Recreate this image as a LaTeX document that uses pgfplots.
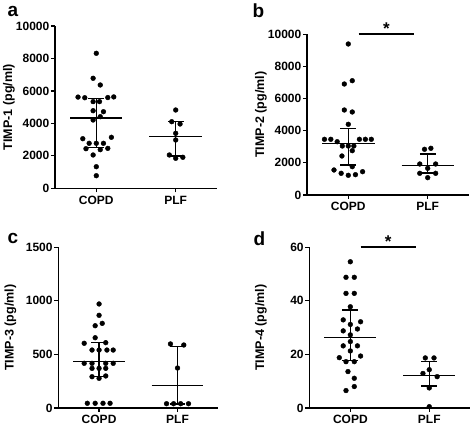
\documentclass[border=0pt]{standalone}
\usepackage{fontspec}
\setmainfont{Liberation Sans}
\usepackage{pgfplots}
\pgfplotsset{compat=1.18}
\pgfplotsset{panel/.style={
  scale only axis, width=162pt, height=161pt,
  xmin=-0.52, xmax=1.52, ymin=0,
  axis lines=left, axis line style={-, line width=1.2pt},
  tick align=outside, major tick length=4pt,
  tick style={line width=1.2pt, black},
  xtick={0,1}, xticklabels={COPD,PLF},
  /pgf/number format/assume math mode=true,
  /pgf/number format/1000 sep={},
  scaled y ticks=false,
  ticklabel style={font=\bfseries\fontsize{12}{14}\selectfont},
  yticklabel style={inner sep=1.5pt},
  ylabel style={font=\bfseries\fontsize{12.5}{14}\selectfont, anchor=center},
  clip=false,
},
dots/.style={only marks, mark=*, mark size=2.4pt, black},
med/.style={black, line width=1.5pt, unbounded coords=jump, mark=none},
sig/.style={black, line width=2pt, mark=none}}
\begin{document}
\begin{tikzpicture}[x=1pt,y=1pt]
\path[use as bounding box] (0,0) rectangle (472,428);
\node[anchor=base west, font=\bfseries\fontsize{19}{22}\selectfont] at (4,411) {a};
\node[anchor=base west, font=\bfseries\fontsize{19}{22}\selectfont] at (249,410) {b};
\node[anchor=base west, font=\bfseries\fontsize{19}{22}\selectfont] at (4,184.7) {c};
\node[anchor=base west, font=\bfseries\fontsize{19}{22}\selectfont] at (250,182.3) {d};
% panel a
\begin{axis}[panel, at={(55pt,239.7pt)}, anchor=south west, height=162.3pt,
  ymax=10000, ytick={0,2000,4000,6000,8000,10000}, ylabel={TIMP-1 (pg/ml)},
  ylabel style={at={(axis description cs:-0.284,0.5)}}]
\addplot[dots] coordinates {
(0,8318)(-0.04,6778)(0.05,6365)
(-0.23,5620)(-0.145,5580)(0.145,5590)(0.22,5630)
(-0.04,5340)(0.04,5340)
(-0.04,4781)(0.09,4720)(-0.04,4208)(0.05,4412)
(-0.17,3056)(0.19,3142)
(-0.09,2772)(0,2772)(0.09,2772)
(-0.13,2440)(0.05,2380)(0.145,2460)
(-0.04,2052)(0,1331)(0,776)
(1,4824)(0.95,4104)(1.055,3962)(1,3389)(1,2976)(0.92,2052)(1,1848)(1.09,1910)};
\addplot[med] coordinates {(-0.33,4333)(0.33,4333)(nan,nan)(0,2526)(0,5524)(nan,nan)(-0.1,2526)(0.1,2526)(nan,nan)(-0.1,5524)(0.1,5524)};
\addplot[med] coordinates {(0.67,3180)(1.33,3180)(nan,nan)(1,1990)(1,4104)(nan,nan)(0.9,1990)(1.1,1990)(nan,nan)(0.9,4104)(1.1,4104)};
\end{axis}
% panel b
\begin{axis}[panel, at={(307pt,233pt)}, anchor=south west, height=160.7pt,
  ymax=10000, ytick={0,2000,4000,6000,8000,10000}, ylabel={TIMP-2 (pg/ml)},
  ylabel style={at={(axis description cs:-0.284,0.5)}}]
\addplot[dots] coordinates {
(0,9397)(-0.05,6907)(0.05,7113)(-0.05,5290)(0.05,5165)(0,4399)
(-0.3,3466)(-0.22,3466)(-0.14,3317)(0.14,3466)(0.215,3466)(0.29,3466)
(-0.075,3049)(0,3049)(0.07,3049)
(0.05,2757)(-0.08,2427)(0.05,1761)
(-0.18,1556)(-0.09,1350)(0,1226)(0.09,1265)(0.18,1450)
(0.96,2844)(1.04,2906)(0.9,1929)(1.1,1929)(1,1661)(0.9,1350)(1.1,1350)(1,1079)};
\addplot[med] coordinates {(-0.33,3200)(0.33,3200)(nan,nan)(0,1870)(0,4149)(nan,nan)(-0.1,1870)(0.1,1870)(nan,nan)(-0.1,4149)(0.1,4149)};
\addplot[med] coordinates {(0.67,1826)(1.33,1826)(nan,nan)(1,1380)(1,2551)(nan,nan)(0.9,1380)(1.1,1380)(nan,nan)(0.9,2551)(1.1,2551)};
\addplot[sig] coordinates {(0.13,10000)(0.83,10000)};
\node[anchor=south, font=\bfseries\fontsize{17}{19}\selectfont, inner sep=0pt] at (axis cs:0.48,10000) {*};
\end{axis}
% panel c
\begin{axis}[panel, at={(58.3pt,20pt)}, anchor=south west, width=160pt, height=160.7pt,
  ymax=1500, ytick={0,500,1000,1500}, ylabel={TIMP-3 (pg/ml)},
  ylabel style={at={(axis description cs:-0.30,0.5)}}]
\addplot[dots] coordinates {
(0,971)(0,865)(-0.05,768)(0.04,790)(-0.05,656)(-0.19,604)(0.085,610)
(-0.09,541)(0,541)(0.1,541)(0.18,541)
(-0.19,417)(-0.09,417)(0.085,417)(0.18,417)
(-0.09,370)(0,370)(0.085,370)
(-0.09,292)(0,277)(0.085,299)
(-0.15,44)(-0.05,44)(0.05,44)(0.14,44)
(0.91,598)(1.08,588)(1,373)(0.86,40)(0.95,40)(1.04,40)(1.14,40)};
\addplot[med] coordinates {(-0.33,436)(0.33,436)(nan,nan)(0,292)(0,610)(nan,nan)(-0.1,292)(0.1,292)(nan,nan)(-0.1,610)(0.1,610)};
\addplot[med] coordinates {(0.67,208)(1.33,208)(nan,nan)(1,37)(1,573)(nan,nan)(0.9,37)(1.1,37)(nan,nan)(0.9,573)(1.1,573)};
\end{axis}
% panel d
\begin{axis}[panel, at={(309.3pt,20pt)}, anchor=south west, width=161pt, height=160.7pt,
  ymax=60, ytick={0,20,40,60}, ylabel={TIMP-4 (pg/ml)},
  ylabel style={at={(axis description cs:-0.30,0.5)}}]
\addplot[dots] coordinates {
(0,54.6)(-0.055,48.8)(0.05,48.8)(-0.055,42.8)(0.05,42.8)(0,37.8)
(-0.09,32.9)(0.13,32.2)(0,31.2)(-0.09,28.8)(0.09,29.5)(0,27.3)(0,24.8)
(-0.09,23.2)(0.09,23.2)(0,21.3)(-0.14,18.8)(0.13,19.4)(-0.055,17.3)(0.05,17.3)
(-0.03,13.6)(0.05,11.1)(0.05,8.0)(-0.055,6.5)
(0.95,18.7)(1.06,18.7)(1,14.3)(0.92,12.9)(1.1,11.7)(1,7.5)(1,0.5)};
\addplot[med] coordinates {(-0.33,26.3)(0.33,26.3)(nan,nan)(0,17.7)(0,36.6)(nan,nan)(-0.1,17.7)(0.1,17.7)(nan,nan)(-0.1,36.6)(0.1,36.6)};
\addplot[med] coordinates {(0.67,12.1)(1.33,12.1)(nan,nan)(1,8.3)(1,17.4)(nan,nan)(0.9,8.3)(1.1,8.3)(nan,nan)(0.9,17.4)(1.1,17.4)};
\addplot[sig] coordinates {(0.13,60)(0.83,60)};
\node[anchor=south, font=\bfseries\fontsize{17}{19}\selectfont, inner sep=0pt] at (axis cs:0.48,60) {*};
\end{axis}
\end{tikzpicture}
\end{document}
